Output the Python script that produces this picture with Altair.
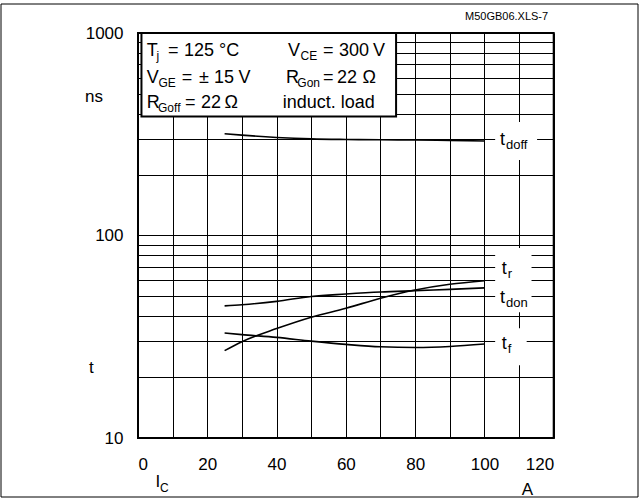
import altair as alt
import pandas as pd

# ---- data ----
I_C = [25, 30, 40, 50, 60, 70, 80, 90, 100]
t_doff = [318, 313, 305, 300, 298, 297, 296, 295, 293]
t_don = [44.9, 45.5, 47.3, 50.0, 51.4, 52.6, 53.4, 54.2, 55.1]
t_r = [27.0, 29.9, 34.7, 39.5, 43.7, 49.0, 53.8, 57.4, 59.8]
t_f = [33.0, 32.4, 31.4, 30.1, 29.0, 28.2, 28.0, 28.3, 29.1]

series_names = ["t_doff", "t_don", "t_r", "t_f"]
series_values = [t_doff, t_don, t_r, t_f]

label_main = ["t", "t", "t", "t"]
label_sub = ["doff", "r", "don", "f"]
label_y = [296, 68.5, 49.3, 29.2]
label_x = [104.5, 105.0, 104.5, 105.0]

x_ticks = list(range(0, 121, 10))
y_ticks = [10, 20, 30, 40, 50, 60, 70, 80, 90,
           100, 200, 300, 400, 500, 600, 700, 800, 900, 1000]

legend_texts = ["T", "j", "=", "125", "°C",
                "V", "CE", "=", "300", "V",
                "V", "GE", "=", "±", "15", "V",
                "R", "Gon", "=", "22", "Ω",
                "R", "Goff", "=", "22", "Ω",
                "induct. load"]

# ---- layout (page pixels) ----
L, T = 138.0, 33.0
W, H = 415.7, 405.0
FONT = "Liberation Sans"
M, S = 18, 12  # main / subscript font sizes in the legend

# legend segment positions: (x, baseline y, font size)
legend_layout = [(146.7, 56, M), (156.5, 60, S), (168, 56, M), (184, 56, M), (219, 56, M),
                 (288, 56, M), (300.5, 60, S), (323, 56, M), (339, 56, M), (373, 56, M),
                 (146.7, 82.5, M), (158.5, 86.5, S), (181.7, 82.5, M), (199, 82.5, M), (214, 82.5, M), (238.5, 82.5, M),
                 (286, 82.5, M), (297.3, 86.5, S), (323, 82.5, M), (337, 82.5, M), (362.5, 82.5, M),
                 (146.7, 108, M), (158, 112, S), (185, 108, M), (201, 108, M), (224.5, 108, M),
                 (282.7, 108, M)]

other_texts = ["ns", "t", "I", "C", "A", "M50GB06.XLS-7"]
other_layout = [(85, 102, 17), (89, 373, 17), (155.5, 487, 17), (160, 492, 12),
                (521.7, 495, 17), (465, 20, 11)]

# ---- tables ----
rows = []
for name, vals in zip(series_names, series_values):
    for i, v in zip(I_C, vals):
        rows.append({"I": i, "t": v, "series": name})
curves = pd.DataFrame(rows)

labels = pd.DataFrame({"series": series_names, "main": label_main, "sub": label_sub,
                       "I": label_x, "t": label_y})

boxes = pd.DataFrame({"I": [103.1, 103.1, 103.1], "I2": [115.2, 113.6, 112.2],
                      "t": [364, 86.7, 34.8], "t2": [236, 41.8, 22.9]})

legend_box = pd.DataFrame({"I": [1.0], "I2": [74.5], "t": [1000], "t2": [387]})

pix_rows = []
for txt, (px, py, fs) in zip(legend_texts + other_texts, legend_layout + other_layout):
    pix_rows.append({"px": px - L, "py": py - T, "txt": txt, "fs": fs})
pix = pd.DataFrame(pix_rows)

xscale = alt.Scale(domain=[0, 120], nice=False, zero=False)
yscale = alt.Scale(type="log", domain=[10, 1000], nice=False)

x_axis = alt.Axis(values=x_ticks, labelExpr="datum.value % 20 == 0 ? datum.label : ''",
                  grid=True, gridColor="black", gridWidth=1, gridOpacity=1,
                  ticks=False, domain=False, title=None, labelFontSize=17,
                  labelFont=FONT, labelColor="black", labelPadding=18)
y_axis = alt.Axis(values=y_ticks, format="d",
                  labelExpr="(datum.value == 10 || datum.value == 100 || datum.value == 1000) ? datum.label : ''",
                  grid=True, gridColor="black", gridWidth=1, gridOpacity=1,
                  ticks=False, domain=False, title=None, labelFontSize=17,
                  labelFont=FONT, labelColor="black", labelPadding=15)

X = lambda f: alt.X(f, scale=xscale, axis=x_axis)
Y = lambda f: alt.Y(f, scale=yscale, axis=y_axis)

lines = alt.Chart(curves).mark_line(color="black", strokeWidth=1.6, interpolate="monotone").encode(
    x=X("I:Q"), y=Y("t:Q"), detail="series:N",
)

white_boxes = alt.Chart(boxes).mark_rect(fill="white", stroke=None).encode(
    x=X("I:Q"), x2="I2:Q", y=Y("t:Q"), y2="t2:Q",
)

lbl_main = alt.Chart(labels).mark_text(align="left", baseline="middle", fontSize=18,
                                       font=FONT, color="black").encode(
    x=X("I:Q"), y=Y("t:Q"), text="main:N")

lbl_sub = alt.Chart(labels).mark_text(align="left", baseline="middle", fontSize=13,
                                      font=FONT, color="black", dx=6, dy=5).encode(
    x=X("I:Q"), y=Y("t:Q"), text="sub:N")

leg_box = alt.Chart(legend_box).mark_rect(fill="white", stroke="black", strokeWidth=2).encode(
    x=X("I:Q"), x2="I2:Q", y=Y("t:Q"), y2="t2:Q",
)

pix_text = alt.Chart(pix).mark_text(align="left", baseline="alphabetic", font=FONT,
                                    color="black").encode(
    x=alt.X("px:Q", scale=None, axis=None),
    y=alt.Y("py:Q", scale=None, axis=None),
    size=alt.Size("fs:Q", scale=None, legend=None),
    text="txt:N",
)

frame = alt.Chart(pd.DataFrame({"k": [0]})).mark_rect(filled=False, stroke="black", strokeWidth=1).encode(
    x=alt.value(1 - L), x2=alt.value(638 - L), y=alt.value(4 - T), y2=alt.value(497 - T))

chart = alt.layer(lines, white_boxes, lbl_main, lbl_sub, leg_box, pix_text, frame).properties(
    width=W, height=H,
    autosize=alt.AutoSizeParams(type="none"),
    padding={"left": L, "top": T, "right": 641 - L - W, "bottom": 500 - T - H},
    background="white",
).configure_view(stroke="black", strokeWidth=2)

chart.save("out.html", embed_options={"renderer": "svg", "actions": False})
